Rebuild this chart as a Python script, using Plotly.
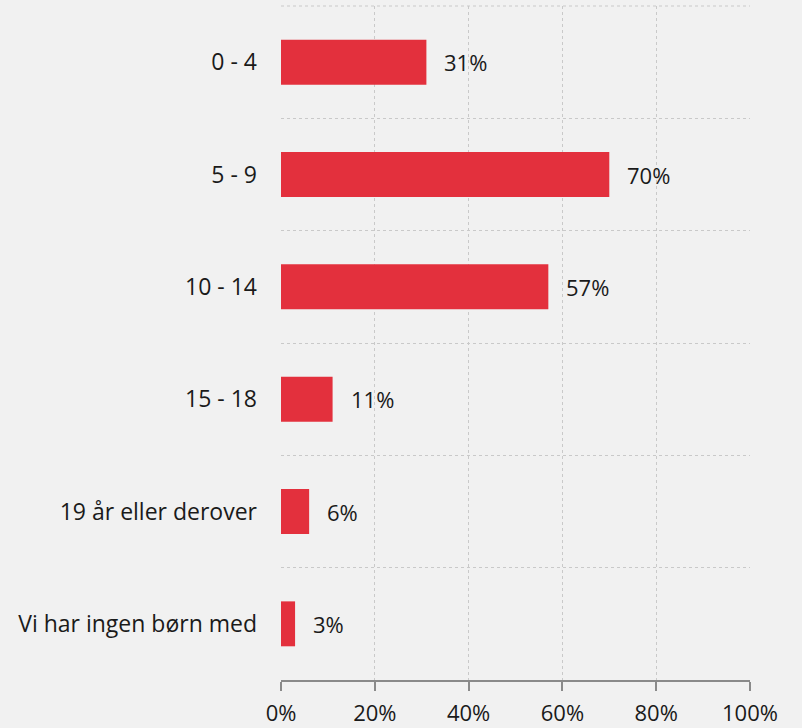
import plotly.graph_objects as go

categories = ["0 - 4", "5 - 9", "10 - 14", "15 - 18", "19 år eller derover", "Vi har ingen børn med"]
values = [31, 70, 57, 11, 6, 3]
x_ticks = [0, 20, 40, 60, 80, 100]
x_tick_labels = ["0%", "20%", "40%", "60%", "80%", "100%"]

BAR_RED = "#e3303d"
BG = "#f1f1f1"
GRID = "#c9c9c9"
FONT = "Open Sans, Noto Sans, sans-serif"
FSIZE = 22

fig = go.Figure()

fig.add_trace(go.Bar(
    x=values,
    y=categories,
    orientation="h",
    width=0.4,
    marker=dict(color=BAR_RED, line=dict(width=0)),
    hoverinfo="skip",
))

for cat, val in zip(categories, values):
    fig.add_annotation(
        x=val, y=cat, text=f"{val}%",
        xanchor="left", yanchor="middle", xshift=16,
        showarrow=False,
        font=dict(family=FONT, size=FSIZE, color="#1a1a1a"),
    )

# dotted top border of the first band
fig.add_shape(type="line", xref="paper", yref="paper", x0=0, x1=1, y0=1, y1=1,
              line=dict(color=GRID, width=1, dash="dot"), layer="below")

fig.update_layout(
    width=802, height=728,
    margin=dict(l=281, r=52, t=6, b=48),
    paper_bgcolor=BG,
    plot_bgcolor=BG,
    showlegend=False,
    font=dict(family=FONT, size=FSIZE, color="#1a1a1a"),
    bargap=0.6,
)

fig.update_xaxes(
    range=[0, 100],
    tickvals=x_ticks,
    ticktext=x_tick_labels,
    showgrid=True,
    gridcolor=GRID,
    griddash="dot",
    gridwidth=1,
    zeroline=False,
    showline=True,
    linecolor="#8a8a8a",
    linewidth=2,
    ticks="outside",
    ticklen=9,
    tickwidth=2,
    tickcolor="#8a8a8a",
    ticklabelstandoff=4,
    tickfont=dict(size=FSIZE, color="#1a1a1a"),
    automargin=False,
    fixedrange=True,
)

fig.update_yaxes(
    type="category",
    categoryorder="array",
    categoryarray=categories,
    autorange="reversed",
    tickson="boundaries",
    showgrid=True,
    gridcolor=GRID,
    griddash="dot",
    gridwidth=1,
    ticks="",
    showline=False,
    ticklabelstandoff=23,
    tickfont=dict(size=23, color="#1a1a1a"),
    automargin=False,
    fixedrange=True,
)

# the page's default 8px body margin would push the figure off the window
fig.write_html("out.html", config={"displayModeBar": False},
               post_script="document.body.style.margin='0';document.body.style.background='%s';" % BG)
